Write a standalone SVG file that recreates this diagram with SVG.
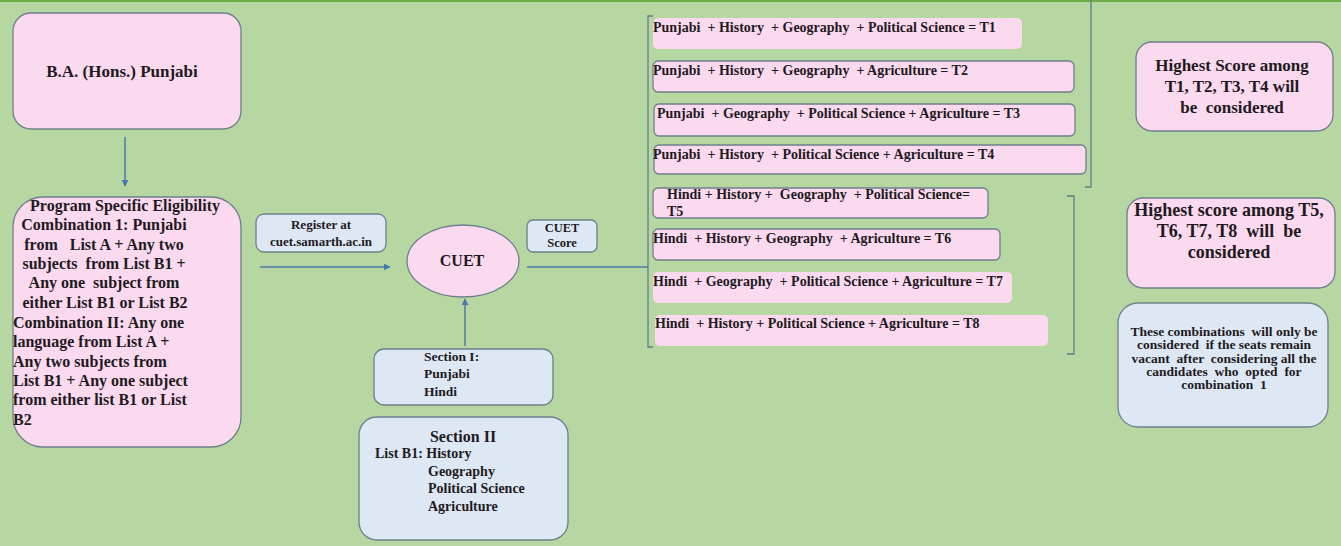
<svg xmlns="http://www.w3.org/2000/svg" width="1341" height="546" viewBox="0 0 1341 546" font-family="'Liberation Serif', 'DejaVu Serif', serif" font-weight="bold">
<defs>
<marker id="ah" viewBox="0 0 10 10" refX="9" refY="5" markerWidth="7" markerHeight="7" orient="auto" markerUnits="userSpaceOnUse">
<path d="M0,0 L10,5 L0,10 z" fill="#4a76b0"/>
</marker>
<style>
.pink{fill:#fbd9ee;stroke:#6f7f8c;stroke-width:1.3}
.pinkn{fill:#fbd9ee;stroke:none}
.blue{fill:#dde8f4;stroke:#6f7f8c;stroke-width:1.3}
.conn{stroke:#4f7aa8;stroke-width:1.5;fill:none}
.brk{stroke:#5f7f8f;stroke-width:1.3;fill:none}
.t14{font-size:14px}
.mid{text-anchor:middle}
.tx{fill:#1e1a1e}
</style>
</defs>
<rect x="0" y="0" width="1341" height="546" fill="#b6d7a1"/>
<rect x="0" y="0" width="1341" height="2" fill="#6fac48"/>

<g id="connectors">
<line class="conn" x1="125" y1="137" x2="125" y2="186" marker-end="url(#ah)"/>
<line class="conn" x1="260" y1="267" x2="390" y2="267" marker-end="url(#ah)"/>
<line class="conn" x1="465" y1="346" x2="465" y2="299" marker-end="url(#ah)"/>
<line class="conn" x1="527" y1="267" x2="648" y2="267"/>
<path class="brk" d="M653,16 H648 V347 H653"/>
<path class="brk" d="M1085,187 H1091 V0"/>
<path class="brk" d="M1067,196 H1074 V354 H1067"/>
</g>

<g class="tx">
<g id="node-ba">
<rect class="pink" x="13" y="13" width="228" height="116" rx="18"/>
<text x="122" y="77" class="mid" font-size="17">B.A. (Hons.) Punjabi</text>
</g>

<g id="node-eligibility">
<rect class="pink" x="13" y="197" width="228" height="250" rx="30"/>
<g font-size="16">
<text x="125" y="211" class="mid">Program Specific Eligibility</text>
<text x="104" y="230" class="mid">Combination 1: Punjabi</text>
<text x="104" y="250" class="mid" xml:space="preserve">from   List A + Any two</text>
<text x="104" y="269" class="mid" xml:space="preserve">subjects  from List B1 +</text>
<text x="104" y="288" class="mid" xml:space="preserve">Any one  subject from</text>
<text x="105" y="308" class="mid">either List B1 or List B2</text>
<text x="13" y="328">Combination II: Any one</text>
<text x="13" y="347">language from List A +</text>
<text x="13" y="367">Any two subjects from</text>
<text x="13" y="386">List B1 + Any one subject</text>
<text x="13" y="405">from either list B1 or List</text>
<text x="13" y="425">B2</text>
</g>
</g>

<g id="node-register">
<rect class="blue" x="256" y="214" width="130" height="38" rx="8"/>
<text x="321" y="229" class="mid" font-size="13">Register at</text>
<text x="321" y="246" class="mid" font-size="13">cuet.samarth.ac.in</text>
</g>

<g id="node-cuet">
<ellipse class="pink" cx="463" cy="261" rx="56" ry="36"/>
<text x="462" y="266" class="mid" font-size="16">CUET</text>
</g>

<g id="node-score">
<rect class="blue" x="527" y="220" width="70" height="32" rx="6"/>
<text x="562" y="232" class="mid" font-size="12.5">CUET</text>
<text x="562" y="247" class="mid" font-size="12.5">Score</text>
</g>

<g id="node-section1">
<rect class="blue" x="374" y="349" width="179" height="56" rx="10"/>
<text x="424" y="361" font-size="13.5">Section I:</text>
<text x="424" y="378" font-size="13.5">Punjabi</text>
<text x="424" y="396" font-size="13.5">Hindi</text>
</g>

<g id="node-section2">
<rect class="blue" x="359" y="417" width="209" height="123" rx="18"/>
<text x="463" y="442" class="mid" font-size="16">Section II</text>
<text x="375" y="458" font-size="14">List B1: History</text>
<text x="428" y="476" font-size="14">Geography</text>
<text x="428" y="493" font-size="14">Political Science</text>
<text x="428" y="511" font-size="14">Agriculture</text>
</g>

<g id="node-t1">
<rect class="pinkn" x="653" y="18" width="369" height="31" rx="5"/>
<text x="653" y="32" class="t14" xml:space="preserve">Punjabi  + History  + Geography  + Political Science = T1</text>
</g>
<g id="node-t2">
<rect class="pink" x="653" y="61" width="421" height="31" rx="5"/>
<text x="653" y="75" class="t14" xml:space="preserve">Punjabi  + History  + Geography  + Agriculture = T2</text>
</g>
<g id="node-t3">
<rect class="pink" x="654" y="104" width="421" height="32" rx="5"/>
<text x="657" y="118" class="t14" xml:space="preserve">Punjabi  + Geography  + Political Science + Agriculture = T3</text>
</g>
<g id="node-t4">
<rect class="pink" x="654" y="145" width="432" height="29" rx="5"/>
<text x="653" y="159" class="t14" xml:space="preserve">Punjabi  + History  + Political Science + Agriculture = T4</text>
</g>
<g id="node-t5">
<rect class="pink" x="653" y="188" width="335" height="30" rx="5"/>
<text x="667" y="199" class="t14" xml:space="preserve">Hindi + History +  Geography  + Political Science=</text>
<text x="667" y="216" class="t14">T5</text>
</g>
<g id="node-t6">
<rect class="pink" x="653" y="229" width="347" height="31" rx="5"/>
<text x="653" y="243" class="t14" xml:space="preserve">Hindi  + History + Geography  + Agriculture = T6</text>
</g>
<g id="node-t7">
<rect class="pinkn" x="653" y="272" width="359" height="31" rx="5"/>
<text x="653" y="286" class="t14" xml:space="preserve">Hindi  + Geography  + Political Science + Agriculture = T7</text>
</g>
<g id="node-t8">
<rect class="pinkn" x="655" y="315" width="393" height="31" rx="5"/>
<text x="655" y="328" class="t14" xml:space="preserve">Hindi  + History + Political Science + Agriculture = T8</text>
</g>

<g id="node-highest1">
<rect class="pink" x="1136" y="42" width="197" height="89" rx="16"/>
<text x="1232" y="71" class="mid" font-size="17">Highest Score among</text>
<text x="1232" y="92" class="mid" font-size="17">T1, T2, T3, T4 will</text>
<text x="1232" y="113" class="mid" font-size="17" xml:space="preserve">be  considered</text>
</g>

<g id="node-highest2">
<rect class="pink" x="1127" y="198" width="208" height="90" rx="16"/>
<text x="1229" y="216" class="mid" font-size="18">Highest score among T5,</text>
<text x="1229" y="237" class="mid" font-size="18" xml:space="preserve">T6, T7, T8  will  be</text>
<text x="1229" y="258" class="mid" font-size="18">considered</text>
</g>

<g id="node-note">
<rect class="blue" x="1118" y="303" width="210" height="124" rx="20"/>
<g font-size="13.5">
<text x="1224" y="336" class="mid" xml:space="preserve">These combinations  will only be</text>
<text x="1224" y="349" class="mid" xml:space="preserve">considered  if the seats remain</text>
<text x="1224" y="363" class="mid" xml:space="preserve">vacant  after  considering all the</text>
<text x="1224" y="376" class="mid" xml:space="preserve">candidates  who  opted  for</text>
<text x="1224" y="389" class="mid" xml:space="preserve">combination  1</text>
</g>
</g>
</g>
</svg>
